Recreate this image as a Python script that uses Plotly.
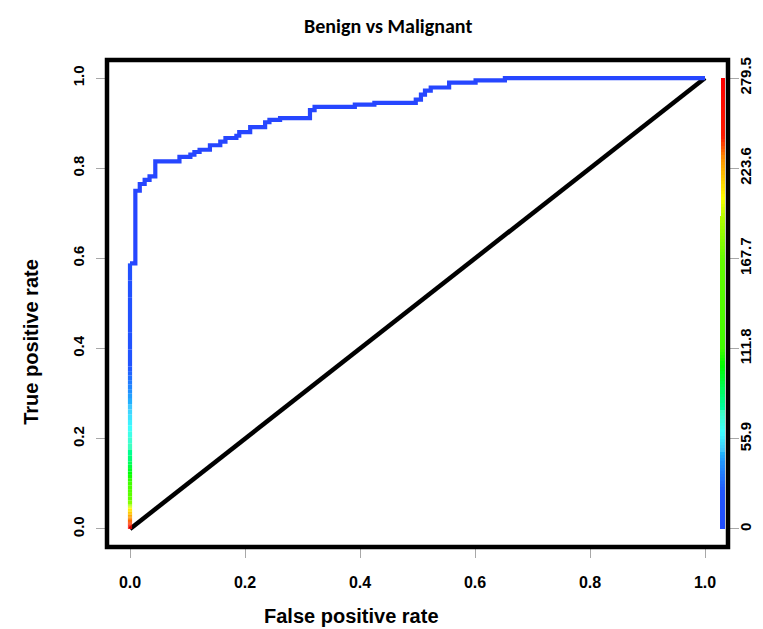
import colorsys
import plotly.graph_objects as go

# ---------------- data ----------------
fpr = [0.0, 0.0, 0.0093, 0.0093, 0.017, 0.017, 0.0255, 0.0255, 0.034, 0.034, 0.044, 0.044,
       0.086, 0.086, 0.105, 0.105, 0.112, 0.112, 0.121, 0.121, 0.139, 0.139, 0.157, 0.157,
       0.166, 0.166, 0.185, 0.185, 0.190, 0.190, 0.209, 0.209, 0.235, 0.235, 0.2425, 0.2425,
       0.261, 0.261, 0.313, 0.313, 0.321, 0.321, 0.391, 0.391, 0.425, 0.425, 0.497, 0.497,
       0.506, 0.506, 0.513, 0.513, 0.523, 0.523, 0.555, 0.555, 0.601, 0.601, 0.652, 0.652, 1.0]
tpr = [0.0, 0.589, 0.589, 0.750, 0.750, 0.765, 0.765, 0.774, 0.774, 0.782, 0.782, 0.815,
       0.815, 0.825, 0.825, 0.830, 0.830, 0.836, 0.836, 0.841, 0.841, 0.851, 0.851, 0.859,
       0.859, 0.867, 0.867, 0.872, 0.872, 0.880, 0.880, 0.891, 0.891, 0.902, 0.902, 0.907,
       0.907, 0.911, 0.911, 0.929, 0.929, 0.936, 0.936, 0.941, 0.941, 0.945, 0.945, 0.952,
       0.952, 0.963, 0.963, 0.972, 0.972, 0.979, 0.979, 0.990, 0.990, 0.995, 0.995, 1.0, 1.0]

# cutoff values (as fraction of the max cutoff) along the vertical start of the curve
seg_tpr = [0.0, 0.010, 0.025, 0.045, 0.055, 0.105, 0.15, 0.23, 0.30, 0.36, 0.589]
seg_frac = [1.0, 0.86, 0.82, 0.74, 0.66, 0.40, 0.30, 0.21, 0.15, 0.08, 0.03]

# colour key: hue (degrees) at fractions of the cutoff range
key_frac = [0.0, 0.08, 0.15, 0.21, 0.30, 0.40, 0.60, 0.69, 0.74, 0.82, 0.87, 1.0]
key_hue = [228, 226, 208, 182, 145, 105, 96, 78, 58, 35, 6, 0]

cut_ticks = [0, 55.9, 111.8, 167.7, 223.6, 279.5]
cut_max = 279.5
xticks = [0.0, 0.2, 0.4, 0.6, 0.8, 1.0]
yticks = [0.0, 0.2, 0.4, 0.6, 0.8, 1.0]

title = "Benign vs Malignant"
xlabel = "False positive rate"
ylabel = "True positive rate"

CURVE_BLUE = "#2646FF"


def key_color(f):
    f = max(0.0, min(1.0, f))
    for i in range(len(key_frac) - 1):
        if key_frac[i] <= f <= key_frac[i + 1]:
            t = (f - key_frac[i]) / (key_frac[i + 1] - key_frac[i])
            h = key_hue[i] + (key_hue[i + 1] - key_hue[i]) * t
            break
    s = 0.87 if h > 200 else (0.75 if 160 < h <= 200 else 1.0)
    r, g, b = colorsys.hsv_to_rgb(h / 360.0, s, 1.0)
    return f"rgb({int(r*255)},{int(g*255)},{int(b*255)})"


fig = go.Figure()

# diagonal
fig.add_trace(go.Scatter(x=[0, 1], y=[0, 1], mode="lines",
                         line=dict(color="black", width=4.5), hoverinfo="skip"))

# main curve (blue part)
fig.add_trace(go.Scatter(x=fpr[1:], y=tpr[1:], mode="lines",
                         line=dict(color=CURVE_BLUE, width=4.2),
                         hoverinfo="skip"))

# coloured vertical part
nsub = 6
for i in range(len(seg_tpr) - 1):
    y0, y1 = seg_tpr[i], seg_tpr[i + 1]
    c0, c1 = seg_frac[i], seg_frac[i + 1]
    for k in range(nsub):
        a = y0 + (y1 - y0) * k / nsub
        b = y0 + (y1 - y0) * (k + 1) / nsub
        c = c0 + (c1 - c0) * (k + 0.5) / nsub
        fig.add_trace(go.Scatter(x=[0, 0], y=[a, b], mode="lines",
                                 line=dict(color=key_color(c), width=4.2),
                                 hoverinfo="skip"))

# colour key bar drawn inside the plot, on the right cutoff axis
nbar = 140
px = 1 / 575.0
bx, bw, bb, bh, bc = [], [], [], [], []
for k in range(nbar):
    v0 = cut_max * k / nbar
    f = (k + 0.5) / nbar
    w = (5.0 if f < 0.69 else 3.5) * px
    right = 1.0347
    bx.append(right - w / 2)
    bw.append(w)
    bb.append(v0)
    bh.append(cut_max / nbar * 1.03)
    bc.append(key_color(f))
fig.add_trace(go.Bar(x=bx, y=bh, base=bb, width=bw, marker=dict(color=bc, line=dict(width=0)),
                     yaxis="y2", hoverinfo="skip"))

xtickfont = dict(family="Liberation Sans, Arial", size=16, color="black", weight="bold")
ytickfont = dict(family="Liberation Sans Narrow, Arial Narrow, Liberation Sans, Arial",
                 size=15, color="black", weight="bold")
axis_common = dict(ticks="outside", ticklen=10, tickcolor="#a8a8a8", tickwidth=1,
                   showgrid=False, zeroline=False, showline=False, automargin=False)

fig.update_layout(
    width=763, height=629,
    margin=dict(l=99, r=43, t=52, b=89.5),
    plot_bgcolor="white", paper_bgcolor="white",
    showlegend=False, barmode="overlay", bargap=0,
    xaxis=dict(range=[-0.04, 1.04], tickvals=xticks, ticktext=[f"{v:.1f}" for v in xticks],
               tickfont=xtickfont, ticklabelstandoff=11, **axis_common),
    yaxis=dict(range=[-0.04, 1.04], tickvals=yticks, ticktext=[f"{v:.1f}" for v in yticks],
               tickangle=-90, tickfont=ytickfont, ticklabelstandoff=6, **axis_common),
    yaxis2=dict(range=[-0.04 * cut_max, 1.04 * cut_max], overlaying="y", side="right",
                tickvals=cut_ticks, ticktext=[f"{v:g}" for v in cut_ticks],
                tickangle=-90, tickfont=ytickfont, ticklabelstandoff=-6, **axis_common),
    shapes=[dict(type="rect", xref="paper", yref="paper", x0=0, x1=1, y0=0, y1=1,
                 line=dict(color="black", width=4.5), layer="above")],
    annotations=[
        dict(text=title, xref="paper", yref="paper", x=0.4525, y=1, yshift=34,
             xanchor="center", yanchor="middle", showarrow=False,
             font=dict(family="Carlito, Lato, Open Sans", size=20, color="black", weight="bold")),
        dict(text=xlabel, x=0.386, xref="x", y=0, yref="paper", yshift=-69,
             xanchor="center", yanchor="middle", showarrow=False,
             font=dict(family="Liberation Sans, Arial", size=20, color="black", weight="bold")),
        dict(text=ylabel, xref="paper", x=0, xshift=-76, y=0.415, yref="y",
             xanchor="center", yanchor="middle", showarrow=False, textangle=-90,
             font=dict(family="Liberation Sans, Arial", size=20, color="black", weight="bold")),
    ],
)

fig.write_html("out.html")
